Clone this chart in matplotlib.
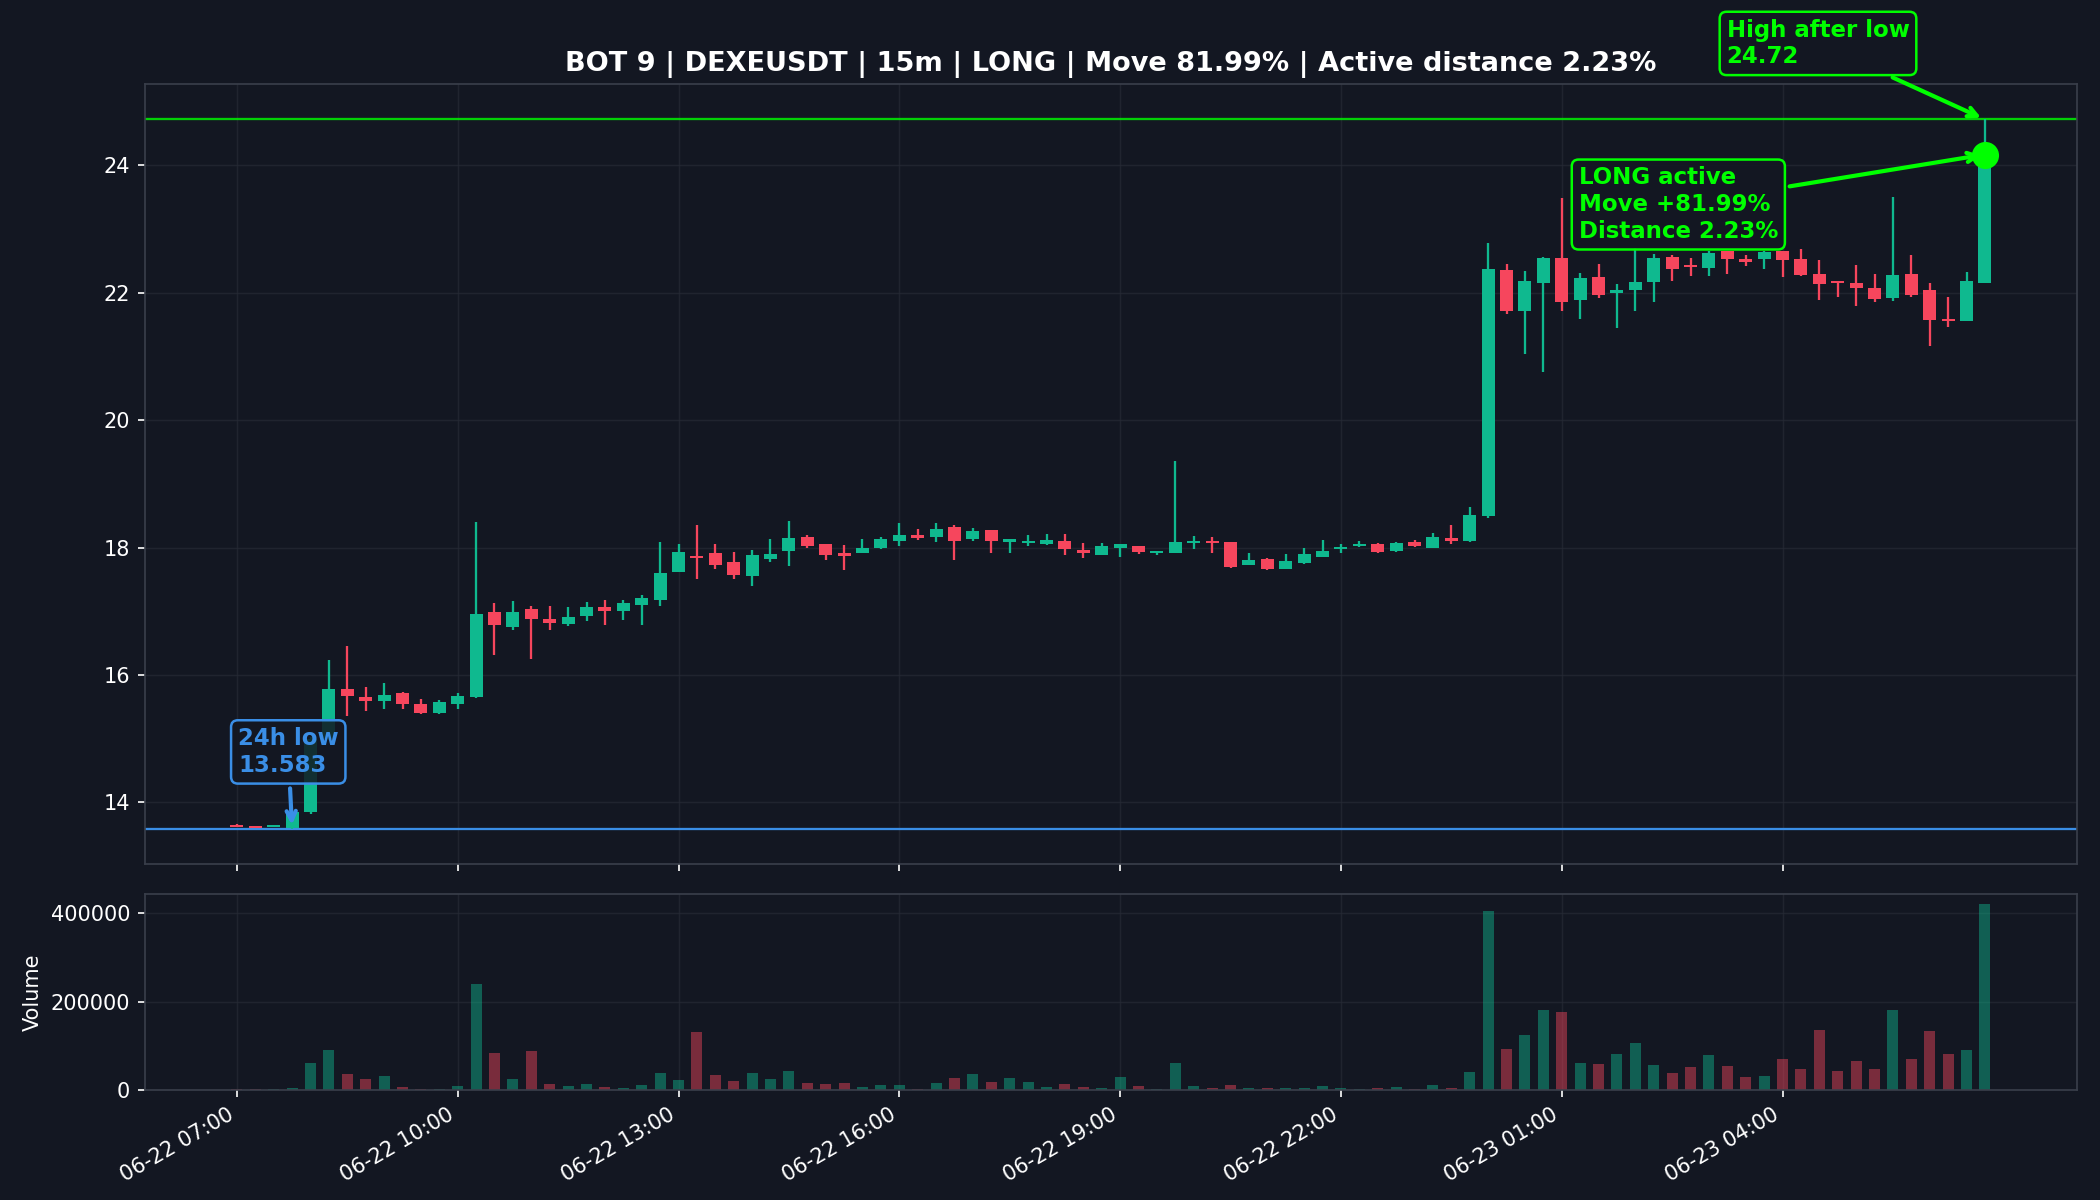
import numpy as np
import pandas as pd
import matplotlib
matplotlib.use("Agg")
import matplotlib.pyplot as plt
from matplotlib.colors import to_rgba

# 15m candles, 06-22 07:00 -> 06-23 06:45
times = pd.date_range("2025-06-22 07:00", periods=96, freq="15min")

opens = [13.65, 13.63, 13.61, 13.60, 13.85, 15.00, 15.78, 15.65, 15.60, 15.72,
         15.55, 15.40, 15.55, 15.65, 16.99, 16.76, 17.04, 16.88, 16.80, 16.92,
         17.07, 17.00, 17.10, 17.17, 17.62, 17.87, 17.92, 17.77, 17.55, 17.82,
         17.94, 18.16, 18.05, 17.91, 17.91, 18.00, 18.11, 18.19, 18.16, 18.33,
         18.13, 18.28, 18.09, 18.07, 18.06, 18.11, 17.97, 17.89, 18.00, 18.03,
         17.92, 17.92, 18.07, 18.11, 18.09, 17.72, 17.82, 17.66, 17.76, 17.86,
         17.98, 18.02, 18.05, 17.94, 18.09, 18.00, 18.15, 18.10, 18.49, 22.36,
         21.72, 22.15, 22.55, 21.88, 22.25, 22.00, 22.04, 22.17, 22.56, 22.44,
         22.39, 22.65, 22.53, 22.53, 22.65, 22.53, 22.30, 22.18, 22.15, 22.07,
         21.92, 22.30, 22.05, 21.59, 21.55, 22.15]
highs = [13.66, 13.63, 13.65, 13.87, 15.02, 16.23, 16.46, 15.81, 15.87, 15.73,
         15.62, 15.61, 15.72, 18.40, 17.13, 17.16, 17.08, 17.08, 17.06, 17.14,
         17.18, 17.18, 17.26, 18.09, 18.05, 18.36, 18.06, 17.93, 17.97, 18.14,
         18.41, 18.19, 18.05, 18.04, 18.13, 18.17, 18.39, 18.29, 18.39, 18.36,
         18.30, 18.28, 18.13, 18.20, 18.21, 18.22, 18.07, 18.07, 18.05, 18.03,
         17.95, 19.36, 18.18, 18.16, 18.09, 17.91, 17.84, 17.90, 17.99, 18.12,
         18.06, 18.10, 18.07, 18.09, 18.12, 18.23, 18.35, 18.64, 22.78, 22.45,
         22.34, 22.56, 23.49, 22.31, 22.45, 22.13, 22.70, 22.61, 22.60, 22.55,
         22.66, 22.66, 22.60, 22.66, 22.66, 22.68, 22.51, 22.18, 22.44, 22.30,
         23.50, 22.60, 22.16, 21.94, 22.32, 24.72]
lows = [13.61, 13.60, 13.61, 13.583, 13.82, 14.98, 15.35, 15.44, 15.46, 15.46,
        15.39, 15.39, 15.47, 15.64, 16.31, 16.71, 16.25, 16.70, 16.77, 16.85,
        16.79, 16.87, 16.79, 17.08, 17.62, 17.50, 17.66, 17.51, 17.40, 17.77,
        17.71, 18.00, 17.80, 17.65, 17.91, 17.98, 18.03, 18.12, 18.09, 17.80,
        18.11, 17.92, 17.92, 18.03, 18.04, 17.88, 17.84, 17.89, 17.86, 17.90,
        17.88, 17.91, 17.98, 17.92, 17.68, 17.72, 17.65, 17.66, 17.75, 17.86,
        17.92, 18.01, 17.91, 17.93, 18.01, 17.99, 18.06, 18.09, 18.47, 21.66,
        21.04, 20.76, 21.71, 21.59, 21.92, 21.45, 21.72, 21.85, 22.18, 22.27,
        22.26, 22.29, 22.42, 22.38, 22.25, 22.27, 21.88, 21.94, 21.80, 21.86,
        21.87, 21.94, 21.16, 21.46, 21.55, 22.15]
closes = [13.62, 13.60, 13.64, 13.85, 15.00, 15.78, 15.67, 15.60, 15.68, 15.55,
          15.41, 15.57, 15.67, 16.96, 16.79, 16.99, 16.88, 16.81, 16.91, 17.07,
          17.01, 17.13, 17.21, 17.60, 17.93, 17.83, 17.73, 17.57, 17.89, 17.90,
          18.15, 18.03, 17.88, 17.87, 17.99, 18.14, 18.20, 18.15, 18.29, 18.11,
          18.26, 18.10, 18.13, 18.11, 18.12, 17.98, 17.91, 18.03, 18.05, 17.93,
          17.95, 18.09, 18.10, 18.07, 17.69, 17.81, 17.66, 17.79, 17.90, 17.95,
          18.01, 18.05, 17.93, 18.07, 18.03, 18.16, 18.10, 18.51, 22.37, 21.72,
          22.18, 22.55, 21.86, 22.23, 21.97, 22.05, 22.17, 22.55, 22.38, 22.40,
          22.62, 22.53, 22.48, 22.64, 22.51, 22.28, 22.14, 22.15, 22.07, 21.90,
          22.28, 21.97, 21.57, 21.55, 22.18, 24.17]
volumes = [800, 600, 1200, 4500, 59300, 89000, 36500, 25100, 32000, 6800,
           1500, 1000, 9100, 239600, 82900, 25100, 86700, 13700, 9100, 13700,
           6800, 4500, 11400, 38800, 22800, 130000, 34200, 20500, 38800, 25100,
           43300, 16000, 13700, 16000, 6800, 11400, 11400, 1800, 16000, 27400,
           36500, 18300, 27400, 18300, 6800, 13700, 6800, 4500, 29700, 9100,
           1500, 59300, 9100, 4500, 11400, 4500, 4500, 4500, 4500, 9100,
           4500, 1500, 4500, 6800, 1500, 11400, 4500, 41000, 406100, 91300,
           123200, 180200, 175700, 59300, 57000, 79900, 105000, 54800, 38800, 50200,
           77600, 52500, 29700, 32000, 68400, 47900, 134600, 43300, 63900, 47900,
           180200, 68400, 132300, 79900, 89000, 422000]

low_24h = 13.583
low_idx = 3
high_after = 24.72
move_pct = 81.99
dist_pct = 2.23

BG = "#131722"
GRID = "#262a35"
UP = "#0fb98f"
DOWN = "#f6465d"
BLUE = "#3a8ee6"
LIME = "#00ff00"

opens = np.array(opens)
closes = np.array(closes)
highs = np.array(highs)
lows = np.array(lows)
volumes = np.array(volumes)

n = len(times)
x = np.arange(n)
colors = np.where(closes >= opens, UP, DOWN)

fig = plt.figure(figsize=(14, 8), dpi=150, facecolor=BG)
gs = fig.add_gridspec(2, 1, height_ratios=[4, 1], left=0.069, right=0.989,
                      top=0.93, bottom=0.092, hspace=0.0615)
ax = fig.add_subplot(gs[0])
ax2 = fig.add_subplot(gs[1], sharex=ax)

for a in (ax, ax2):
    a.set_facecolor(BG)
    a.grid(True, color=GRID, lw=0.7, alpha=0.7)
    a.set_axisbelow(True)
    for s in a.spines.values():
        s.set_color("#3a3f4b")
    a.tick_params(colors="white", labelsize=10)

# candles
ax.vlines(x, lows, highs, colors=colors, lw=1.1, zorder=2)
body = np.maximum(np.abs(closes - opens), 0.02)
ax.bar(x, body, bottom=np.minimum(opens, closes), width=0.7, color=colors, zorder=3)

ax.axhline(low_24h, color=BLUE, lw=1.1, zorder=1)
ax.axhline(high_after, color=LIME, lw=1.1, alpha=0.8, zorder=1)
ax.plot(x[-1], closes[-1], "o", ms=12, color=LIME, zorder=5)

rng = high_after - low_24h
ax.set_ylim(low_24h - 0.05 * rng, high_after + 0.05 * rng)
ax.set_xlim(-5, n - 1 + 5)

box_fc = to_rgba(BG, 0.85)
ax.annotate(f"24h low\n{low_24h}", xy=(x[low_idx], low_24h), xytext=(-26, 37),
            textcoords="offset points", ha="left", va="center", color=BLUE,
            fontsize=11, fontweight="bold", zorder=6,
            bbox=dict(boxstyle="round,pad=0.3", fc=box_fc, ec=BLUE, lw=1.2),
            arrowprops=dict(arrowstyle="->", color=BLUE, lw=2))
ax.annotate(f"High after low\n{high_after}", xy=(x[-1], high_after), xytext=(-124, 36.5),
            textcoords="offset points", ha="left", va="center", color=LIME,
            fontsize=11, fontweight="bold", zorder=6, annotation_clip=False,
            bbox=dict(boxstyle="round,pad=0.3", fc=box_fc, ec=LIME, lw=1.2),
            arrowprops=dict(arrowstyle="->", color=LIME, lw=2))
ax.annotate(f"LONG active\nMove +{move_pct}%\nDistance {dist_pct}%",
            xy=(x[-1], closes[-1]), xytext=(-195, -24),
            textcoords="offset points", ha="left", va="center", color=LIME,
            fontsize=11, fontweight="bold", zorder=6,
            bbox=dict(boxstyle="round,pad=0.3", fc=box_fc, ec=LIME, lw=1.2),
            arrowprops=dict(arrowstyle="->", color=LIME, lw=2))

ax.set_title(f"BOT 9 | DEXEUSDT | 15m | LONG | Move {move_pct}% | Active distance {dist_pct}%",
             color="white", fontsize=13, fontweight="bold")

# volume
ax2.bar(x, volumes, width=0.6, color=colors, alpha=0.45)
ax2.set_ylim(0, volumes.max() * 1.05)
ax2.set_ylabel("Volume", color="white", fontsize=10)
ax2.ticklabel_format(axis="y", style="plain")
ax2.set_yticks([0, 200000, 400000])

# one label every 3 hours
ticks = list(range(0, n, 12))
ax2.set_xticks(ticks)
ax2.set_xticklabels([times[i].strftime("%m-%d %H:%M") for i in ticks],
                    rotation=30, ha="right")
plt.setp(ax.get_xticklabels(), visible=False)

fig.savefig("out.png", dpi=150, facecolor=BG)
